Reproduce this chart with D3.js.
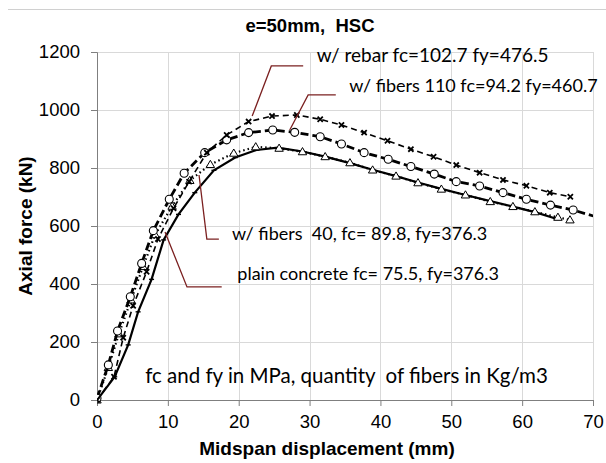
<!DOCTYPE html>
<html>
<head>
<meta charset="utf-8">
<script src="https://cdn.jsdelivr.net/npm/d3@7"></script>
<style>
  body { margin: 0; background: #fff; }
  svg { display: block; }
  .tick text { font-family: Arial, "Liberation Sans", sans-serif; font-size: 18.5px; fill: #000; }
  .note { font-family: Lato, "Open Sans", sans-serif; font-size: 18px; fill: #000; white-space: pre; }
  .note.mid { font-size: 19px; }
  .note.big { font-size: 20.5px; }
  .ttl { font-family: Arial, "Liberation Sans", sans-serif; font-weight: bold; fill: #000; white-space: pre; }
</style>
</head>
<body>
<svg id="chart" width="606" height="463"></svg>
<script>
// series data: [displacement (mm), axial force (kN)]
const plainConcrete = [[0,0],[2.5,80],[4.4,190],[5.8,304],[7.7,416],[9.4,552],[11.5,640],[13.8,715],[16.5,792],[19.5,836],[22.5,862],[25.5,870],[29,857],[32.2,839],[35.7,817],[38.9,794],[42.2,772],[45.3,750],[48.6,728],[52,707],[55.5,686],[58.7,667],[61.8,648],[64.7,626]];
const fibers40 = [[0,0],[1.6,112],[3.1,228],[4.8,345],[6.5,460],[8.2,570],[10.6,668],[13.1,757],[16,812],[19.3,851],[22.4,873],[25.7,868],[29,856],[32.2,839],[35.7,818],[38.9,793],[42.2,772],[45.3,749],[48.6,727],[52,707],[55.5,684],[58.7,667],[61.8,649],[65.05,630],[66.75,621]];
const fibers110 = [[0,6],[1.6,121],[2.9,238],[4.7,356],[6.3,471],[7.95,584],[10.2,692],[12.3,782],[15.2,853],[18.3,897],[21.4,922],[24.8,931],[27.9,923],[31.5,908],[34.5,883],[37.7,853],[41.1,830],[44.3,805],[47.6,779],[50.7,753],[54,738],[57.3,715],[60.6,692],[64,672],[67.2,655],[71.5,624]];
const withRebar = [[0,0],[2.4,80],[3.7,215],[5.1,325],[7,442],[8.6,555],[10.8,661],[13,753],[15.5,853],[18.3,914],[21.4,960],[24.7,979],[28.2,983],[31.5,968],[34.5,948],[37.7,922],[41,894],[44.3,865],[47.5,839],[50.7,810],[54,784],[57.3,759],[60.6,739],[63.9,715],[66.8,701]];

const xTicks = [0,10,20,30,40,50,60,70];
const yTicks = [0,200,400,600,800,1000,1200];

// annotation labels and leader lines (data units)
const labels = [
  { text: "w/ rebar fc=102.7 fy=476.5", at: [31.0, 1166], cls: 'mid' },
  { text: "w/ fibers 110 fc=94.2 fy=460.7", at: [35.6, 1062] },
  { text: "w/ fibers  40, fc= 89.8, fy=376.3", at: [19.05, 552] },
  { text: "plain concrete fc= 75.5, fy=376.3", at: [19.8, 414] },
  { text: "fc and fy in MPa, quantity  of fibers in Kg/m3", at: [6.8, 59], cls: 'big' }
];
const leaders = [
  [[21.9,979],[24.6,1152],[29.1,1152]],
  [[27.2,931],[29.8,1052],[33.7,1052]],
  [[14.4,776],[15.5,555],[17.2,555]],
  [[9.6,579],[12.7,390],[17.6,390]]
];

const svg = d3.select('#chart');
const margin = { top: 52, right: 13, bottom: 63, left: 97 };
const width = 606 - margin.left - margin.right;
const height = 463 - margin.top - margin.bottom;

const x = d3.scaleLinear().domain([0, 70]).range([0, width]);
const y = d3.scaleLinear().domain([0, 1200]).range([height, 0]);

// thin rule across the top of the figure
svg.append('line')
  .attr('x1', 8).attr('x2', 606).attr('y1', 9.5).attr('y2', 9.5)
  .attr('stroke', '#d0d0d0').attr('stroke-width', 1);

const g = svg.append('g').attr('transform', `translate(${margin.left},${margin.top})`);

svg.append('defs').append('clipPath').attr('id', 'plot-clip')
  .append('rect').attr('x', 0).attr('y', -10).attr('width', width).attr('height', height + 20);

// grid
g.append('g').selectAll('line').data(yTicks.slice(1)).enter().append('line')
  .attr('x1', 0).attr('x2', width)
  .attr('y1', d => Math.round(y(d)) + 0.5).attr('y2', d => Math.round(y(d)) + 0.5)
  .attr('stroke', '#d9d9d9');
g.append('g').selectAll('line').data(xTicks.slice(1)).enter().append('line')
  .attr('x1', d => Math.round(x(d)) + 0.5).attr('x2', d => Math.round(x(d)) + 0.5)
  .attr('y1', 0).attr('y2', height)
  .attr('stroke', '#d9d9d9');

// axes
const xAxis = g.append('g')
  .attr('transform', `translate(0,${height})`)
  .call(d3.axisBottom(x).tickValues(xTicks).tickSize(6).tickPadding(9).tickFormat(d3.format('d')));
const yAxis = g.append('g')
  .call(d3.axisLeft(y).tickValues(yTicks).tickSize(6).tickPadding(11).tickFormat(d3.format('d')));
[xAxis, yAxis].forEach(a => {
  a.select('.domain').attr('stroke', '#7f7f7f');
  a.selectAll('.tick line').attr('stroke', '#7f7f7f');
});

// series
const line = d3.line().x(d => x(d[0])).y(d => y(d[1]));
const plot = g.append('g').attr('clip-path', 'url(#plot-clip)');

const series = [
  { data: plainConcrete, width: 2.2, dash: null, marker: 'dash' },
  { data: fibers40, width: 2.2, dash: '1.5,3', marker: 'triangle' },
  { data: fibers110, width: 2.8, dash: '8,4', marker: 'circle' },
  { data: withRebar, width: 1.6, dash: '6,4', marker: 'cross' }
];

series.forEach(s => {
  plot.append('path')
    .datum(s.data)
    .attr('fill', 'none')
    .attr('stroke', '#000')
    .attr('stroke-width', s.width)
    .attr('stroke-dasharray', s.dash)
    .attr('d', line);

  const pts = plot.append('g').selectAll('g').data(s.data.filter(d => d[0] <= 70)).enter().append('g')
    .attr('transform', d => `translate(${x(d[0])},${y(d[1])})`);
  if (s.marker === 'circle') {
    pts.append('circle').attr('r', 4).attr('fill', '#fff').attr('stroke', '#000').attr('stroke-width', 1.1);
  } else if (s.marker === 'triangle') {
    pts.append('path').attr('d', 'M0,-4.2L4.2,3L-4.2,3Z').attr('fill', '#fff').attr('stroke', '#000').attr('stroke-width', 1);
  } else if (s.marker === 'cross') {
    pts.append('path').attr('d', 'M-2.6,-2.6L2.6,2.6M-2.6,2.6L2.6,-2.6').attr('stroke', '#000').attr('stroke-width', 1.8);
  } else {
    pts.append('path').attr('d', 'M-2.5,0L2.5,0').attr('stroke', '#000').attr('stroke-width', 1.4);
  }
});

// leader lines
g.append('g').selectAll('path').data(leaders).enter().append('path')
  .attr('d', d3.line().x(d => x(d[0])).y(d => y(d[1])))
  .attr('fill', 'none')
  .attr('stroke', '#7b2020')
  .attr('stroke-width', 1.3);

// annotation texts
g.append('g').selectAll('text').data(labels).enter().append('text')
  .attr('class', d => d.cls ? 'note ' + d.cls : 'note')
  .attr('x', d => x(d.at[0]))
  .attr('y', d => y(d.at[1]))
  .text(d => d.text);

// title and axis titles
svg.append('text')
  .attr('class', 'ttl')
  .attr('x', 310).attr('y', 32)
  .attr('text-anchor', 'middle')
  .style('font-size', '18.5px')
  .text('e=50mm,  HSC');

svg.append('text')
  .attr('class', 'ttl')
  .attr('transform', `translate(32,${margin.top + height / 2}) rotate(-90)`)
  .attr('text-anchor', 'middle')
  .style('font-size', '19px')
  .text('Axial force (kN)');

svg.append('text')
  .attr('class', 'ttl')
  .attr('x', 327).attr('y', 455)
  .attr('text-anchor', 'middle')
  .style('font-size', '19px')
  .text('Midspan displacement (mm)');
</script>
</body>
</html>
